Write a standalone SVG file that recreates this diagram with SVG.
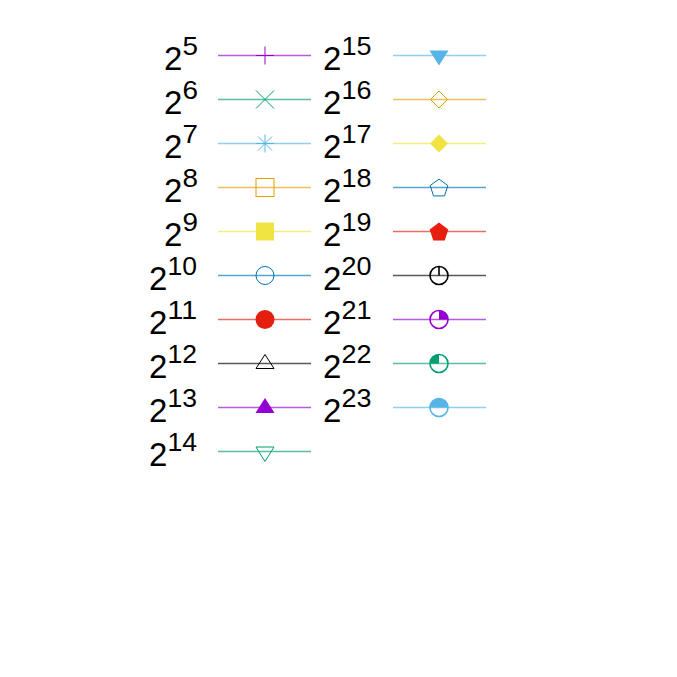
<svg xmlns="http://www.w3.org/2000/svg" xmlns:xlink="http://www.w3.org/1999/xlink" width="677" height="677" viewBox="0 0 677 677">
<style>
text{font-family:"Liberation Sans",Arial,sans-serif;font-size:33px;fill:#000}
.sup{font-size:25px}
.ln{stroke-width:1.5;fill:none}
.o{fill:none;stroke:currentColor;stroke-width:1}
.f{fill:currentColor;stroke:none}
.ot{fill:none;stroke:currentColor;stroke-width:1.6}
</style>
<defs>
<g id="m1"><path class="o" d="M0,-9V9M-9,0H9"/></g>
<g id="m2"><path class="o" d="M-9,-9L9,9M-9,9L9,-9"/></g>
<g id="m3"><path class="o" d="M0,-9V9M-9,0H9M-7,-7L7,7M-7,7L7,-7"/></g>
<g id="m4"><rect class="o" x="-9" y="-9" width="18" height="18"/></g>
<g id="m5"><rect class="f" x="-9" y="-9" width="18" height="18"/></g>
<g id="m6"><circle class="o" r="9"/></g>
<g id="m7"><circle class="f" r="9.5"/></g>
<g id="m8"><path class="o" d="M0,-9L9,5H-9Z"/></g>
<g id="m9"><path class="f" d="M0,-9.5L9.5,5.5H-9.5Z"/></g>
<g id="m10"><path class="o" d="M0,10L9,-4.5H-9Z"/></g>
<g id="m11"><path class="f" d="M0,10L9.5,-5H-9.5Z"/></g>
<g id="m12"><path class="o" d="M0,-8.5L8.5,0L0,8.5L-8.5,0Z"/></g>
<g id="m13"><path class="f" d="M0,-9L9,0L0,9L-9,0Z"/></g>
<g id="m14"><path class="o" d="M0,-8.4L8.84,-1.97L5.47,8.42L-5.47,8.42L-8.84,-1.97Z"/></g>
<g id="m15"><path class="f" d="M0,-8.9L9.3,-2.1L5.75,8.9L-5.75,8.9L-9.3,-2.1Z"/></g>
<g id="m16"><circle class="ot" r="9"/><path class="ot" d="M0,0V-9"/></g>
<g id="m17"><path class="f" d="M0,0V-9A9,9 0 0 1 9,0Z"/><circle class="ot" r="9"/></g>
<g id="m18"><path class="f" d="M0,0H-9A9,9 0 0 1 0,-9Z"/><circle class="ot" r="9"/></g>
<g id="m19"><path class="f" d="M-9,0A9,9 0 0 1 9,0Z"/><circle class="ot" r="9"/></g>
</defs>
<g id="connectors">
<line class="ln" stroke="#b959e2" x1="218" y1="55.5" x2="311" y2="55.5"/>
<line class="ln" stroke="#59c0a4" x1="218" y1="99.5" x2="311" y2="99.5"/>
<line class="ln" stroke="#91cef0" x1="218" y1="143.5" x2="311" y2="143.5"/>
<line class="ln" stroke="#efc059" x1="218" y1="187.5" x2="311" y2="187.5"/>
<line class="ln" stroke="#f5ed84" x1="218" y1="231.5" x2="311" y2="231.5"/>
<line class="ln" stroke="#59a3cd" x1="218" y1="275.5" x2="311" y2="275.5"/>
<line class="ln" stroke="#ee6d63" x1="218" y1="319.5" x2="311" y2="319.5"/>
<line class="ln" stroke="#595959" x1="218" y1="363.5" x2="311" y2="363.5"/>
<line class="ln" stroke="#b959e2" x1="218" y1="407.5" x2="311" y2="407.5"/>
<line class="ln" stroke="#59c0a4" x1="218" y1="451.5" x2="311" y2="451.5"/>
<line class="ln" stroke="#91cef0" x1="393" y1="55.5" x2="486" y2="55.5"/>
<line class="ln" stroke="#efc059" x1="393" y1="99.5" x2="486" y2="99.5"/>
<line class="ln" stroke="#f5ed84" x1="393" y1="143.5" x2="486" y2="143.5"/>
<line class="ln" stroke="#59a3cd" x1="393" y1="187.5" x2="486" y2="187.5"/>
<line class="ln" stroke="#ee6d63" x1="393" y1="231.5" x2="486" y2="231.5"/>
<line class="ln" stroke="#595959" x1="393" y1="275.5" x2="486" y2="275.5"/>
<line class="ln" stroke="#b959e2" x1="393" y1="319.5" x2="486" y2="319.5"/>
<line class="ln" stroke="#59c0a4" x1="393" y1="363.5" x2="486" y2="363.5"/>
<line class="ln" stroke="#91cef0" x1="393" y1="407.5" x2="486" y2="407.5"/>
</g>
<g id="n5"><text x="164" y="69.5">2</text><text class="sup" x="182.5" y="55" textLength="15.5" lengthAdjust="spacingAndGlyphs">5</text><use xlink:href="#m1" x="265" y="55.5" color="#9400d3"/></g>
<g id="n6"><text x="164" y="113.5">2</text><text class="sup" x="182.5" y="99" textLength="15.5" lengthAdjust="spacingAndGlyphs">6</text><use xlink:href="#m2" x="265" y="99.5" color="#009e73"/></g>
<g id="n7"><text x="164" y="157.5">2</text><text class="sup" x="182.5" y="143" textLength="15.5" lengthAdjust="spacingAndGlyphs">7</text><use xlink:href="#m3" x="265" y="143.5" color="#56b4e9"/></g>
<g id="n8"><text x="164" y="201.5">2</text><text class="sup" x="182.5" y="187" textLength="15.5" lengthAdjust="spacingAndGlyphs">8</text><use xlink:href="#m4" x="265" y="187.5" color="#e69f00"/></g>
<g id="n9"><text x="164" y="245.5">2</text><text class="sup" x="182.5" y="231" textLength="15.5" lengthAdjust="spacingAndGlyphs">9</text><use xlink:href="#m5" x="265" y="231.5" color="#f0e442"/></g>
<g id="n10"><text x="149" y="289.5">2</text><text class="sup" x="167.5" y="275" textLength="29.5" lengthAdjust="spacingAndGlyphs">10</text><use xlink:href="#m6" x="265" y="275.5" color="#0072b2"/></g>
<g id="n11"><text x="149" y="333.5">2</text><text class="sup" x="167.5" y="319" textLength="29.5" lengthAdjust="spacingAndGlyphs">11</text><use xlink:href="#m7" x="265" y="319.5" color="#e51e10"/></g>
<g id="n12"><text x="149" y="377.5">2</text><text class="sup" x="167.5" y="363" textLength="29.5" lengthAdjust="spacingAndGlyphs">12</text><use xlink:href="#m8" x="265" y="363.5" color="#000000"/></g>
<g id="n13"><text x="149" y="421.5">2</text><text class="sup" x="167.5" y="407" textLength="29.5" lengthAdjust="spacingAndGlyphs">13</text><use xlink:href="#m9" x="265" y="407.5" color="#9400d3"/></g>
<g id="n14"><text x="149" y="465.5">2</text><text class="sup" x="167.5" y="451" textLength="29.5" lengthAdjust="spacingAndGlyphs">14</text><use xlink:href="#m10" x="265" y="451.5" color="#009e73"/></g>
<g id="n15"><text x="323" y="69.5">2</text><text class="sup" x="341.5" y="55" textLength="30" lengthAdjust="spacingAndGlyphs">15</text><use xlink:href="#m11" x="439" y="55.5" color="#56b4e9"/></g>
<g id="n16"><text x="323" y="113.5">2</text><text class="sup" x="341.5" y="99" textLength="30" lengthAdjust="spacingAndGlyphs">16</text><use xlink:href="#m12" x="439" y="99.5" color="#e69f00"/></g>
<g id="n17"><text x="323" y="157.5">2</text><text class="sup" x="341.5" y="143" textLength="30" lengthAdjust="spacingAndGlyphs">17</text><use xlink:href="#m13" x="439" y="143.5" color="#f0e442"/></g>
<g id="n18"><text x="323" y="201.5">2</text><text class="sup" x="341.5" y="187" textLength="30" lengthAdjust="spacingAndGlyphs">18</text><use xlink:href="#m14" x="439" y="187.5" color="#0072b2"/></g>
<g id="n19"><text x="323" y="245.5">2</text><text class="sup" x="341.5" y="231" textLength="30" lengthAdjust="spacingAndGlyphs">19</text><use xlink:href="#m15" x="439" y="231.5" color="#e51e10"/></g>
<g id="n20"><text x="323" y="289.5">2</text><text class="sup" x="341.5" y="275" textLength="30" lengthAdjust="spacingAndGlyphs">20</text><use xlink:href="#m16" x="439" y="275.5" color="#000000"/></g>
<g id="n21"><text x="323" y="333.5">2</text><text class="sup" x="341.5" y="319" textLength="30" lengthAdjust="spacingAndGlyphs">21</text><use xlink:href="#m17" x="439" y="319.5" color="#9400d3"/></g>
<g id="n22"><text x="323" y="377.5">2</text><text class="sup" x="341.5" y="363" textLength="30" lengthAdjust="spacingAndGlyphs">22</text><use xlink:href="#m18" x="439" y="363.5" color="#009e73"/></g>
<g id="n23"><text x="323" y="421.5">2</text><text class="sup" x="341.5" y="407" textLength="30" lengthAdjust="spacingAndGlyphs">23</text><use xlink:href="#m19" x="439" y="407.5" color="#56b4e9"/></g>
</svg>
